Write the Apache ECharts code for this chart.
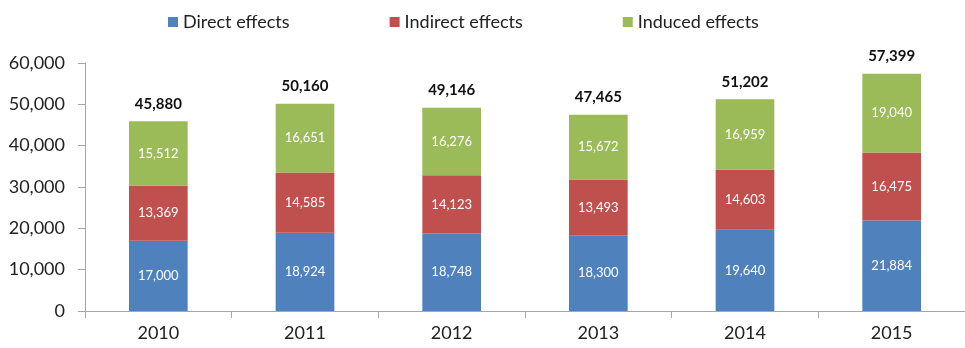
<!DOCTYPE html>
<html>
<head>
<meta charset="utf-8">
<script src="https://cdn.jsdelivr.net/npm/echarts@6/dist/echarts.min.js"></script>
<style>
  html, body { margin: 0; padding: 0; background: #fff; }
  #chart { width: 965px; height: 348px; }
</style>
</head>
<body>
<div id="chart"></div>
<script>
// categories and values
var years = ["2010", "2011", "2012", "2013", "2014", "2015"];
var direct = [17000, 18924, 18748, 18300, 19640, 21884];
var indirect = [13369, 14585, 14123, 13493, 14603, 16475];
var induced = [15512, 16651, 16276, 15672, 16959, 19040];
var totals = [45880, 50160, 49146, 47465, 51202, 57399];

var fmt = function (v) { return Number(v).toLocaleString("en-US"); };
var font = "Lato, 'Open Sans', sans-serif";

var chart = echarts.init(document.getElementById("chart"));

function inner(name, data, color) {
  return {
    name: name,
    type: "bar",
    stack: "all",
    data: data,
    barWidth: "40%",
    itemStyle: { color: color },
    label: {
      show: true,
      position: "inside",
      color: "#fff",
      fontFamily: font,
      fontSize: 13,
      formatter: function (p) { return fmt(p.value); }
    }
  };
}

chart.setOption({
  animation: false,
  textStyle: { fontFamily: font },
  legend: {
    data: ["Direct effects", "Indirect effects", "Induced effects"],
    left: 163,
    top: 8,
    icon: "rect",
    itemWidth: 10,
    itemHeight: 10,
    itemGap: 100,
    textStyle: { fontSize: 18, color: "#222", fontFamily: font }
  },
  grid: { left: 85, right: -6, top: 63, bottom: 37 },
  xAxis: {
    type: "category",
    data: years,
    axisLine: { lineStyle: { color: "#a6a6a6" } },
    axisTick: { show: true, length: 7, lineStyle: { color: "#a6a6a6" } },
    axisLabel: { fontSize: 18, color: "#222", margin: 13, fontFamily: font }
  },
  yAxis: {
    type: "value",
    min: 0,
    max: 60000,
    interval: 10000,
    splitLine: { show: false },
    axisLine: { show: true, lineStyle: { color: "#a6a6a6" } },
    axisTick: { show: true, length: 7, lineStyle: { color: "#a6a6a6" } },
    axisLabel: { fontSize: 18, color: "#222", margin: 20, fontFamily: font, formatter: fmt }
  },
  series: [
    inner("Direct effects", direct, "#4F81BD"),
    inner("Indirect effects", indirect, "#C0504D"),
    inner("Induced effects", induced, "#9BBB59"),
    {
      name: "Total",
      type: "bar",
      stack: "all",
      data: years.map(function () { return 0; }),
      itemStyle: { color: "transparent" },
      label: {
        show: true,
        position: "top",
        distance: 10,
        color: "#111",
        fontWeight: "bold",
        fontSize: 15,
        fontFamily: font,
        formatter: function (p) { return fmt(totals[p.dataIndex]); }
      }
    }
  ]
});
</script>
</body>
</html>
